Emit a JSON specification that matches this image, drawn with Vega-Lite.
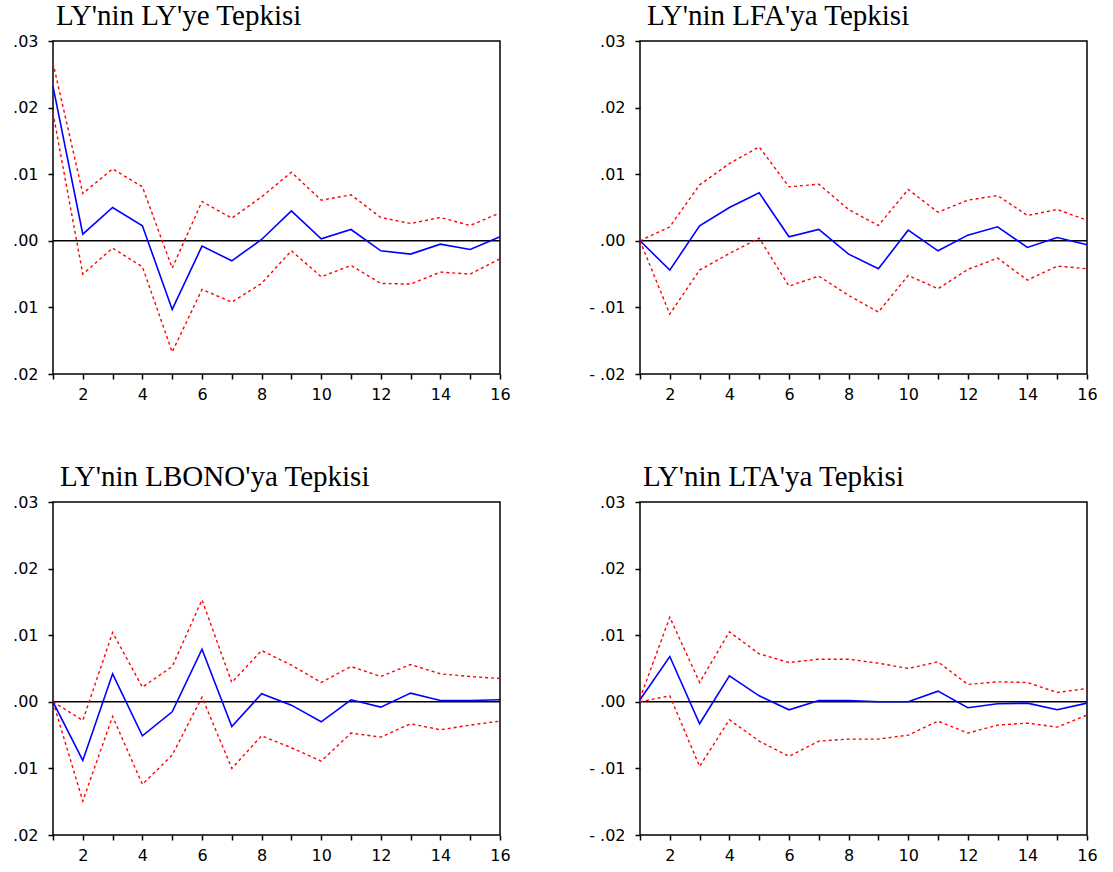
{
  "$schema": "https://vega.github.io/schema/vega-lite/v6.json",
  "background": "white",
  "padding": {"left": 11, "top": 1, "right": 10, "bottom": 5},
  "datasets": {
    "ly": [
      {"t":1,"r":0.0232,"lo":0.0192,"hi":0.0267},
      {"t":2,"r":0.001,"lo":-0.005,"hi":0.0071},
      {"t":3,"r":0.005,"lo":-0.0011,"hi":0.0108},
      {"t":4,"r":0.00225,"lo":-0.0039,"hi":0.0081},
      {"t":5,"r":-0.0103,"lo":-0.0167,"hi":-0.0041},
      {"t":6,"r":-0.0008,"lo":-0.0073,"hi":0.0059},
      {"t":7,"r":-0.003,"lo":-0.0092,"hi":0.0034},
      {"t":8,"r":0.0002,"lo":-0.0064,"hi":0.0066},
      {"t":9,"r":0.0045,"lo":-0.0015,"hi":0.0103},
      {"t":10,"r":0.0003,"lo":-0.0054,"hi":0.0061},
      {"t":11,"r":0.0017,"lo":-0.0037,"hi":0.0069},
      {"t":12,"r":-0.0015,"lo":-0.0064,"hi":0.0035},
      {"t":13,"r":-0.002,"lo":-0.0065,"hi":0.0026},
      {"t":14,"r":-0.0005,"lo":-0.0047,"hi":0.0035},
      {"t":15,"r":-0.0013,"lo":-0.005,"hi":0.0023},
      {"t":16,"r":0.0006,"lo":-0.0027,"hi":0.0042}
    ],
    "lfa": [
      {"t":1,"r":0,"lo":0,"hi":0},
      {"t":2,"r":-0.0044,"lo":-0.011,"hi":0.0021},
      {"t":3,"r":0.00225,"lo":-0.0044,"hi":0.0084},
      {"t":4,"r":0.005,"lo":-0.0019,"hi":0.0116},
      {"t":5,"r":0.0072,"lo":0.0004,"hi":0.0141},
      {"t":6,"r":0.0006,"lo":-0.0068,"hi":0.0081},
      {"t":7,"r":0.0017,"lo":-0.0053,"hi":0.0085},
      {"t":8,"r":-0.002,"lo":-0.0082,"hi":0.0047},
      {"t":9,"r":-0.0042,"lo":-0.0107,"hi":0.0023},
      {"t":10,"r":0.0016,"lo":-0.0052,"hi":0.0077},
      {"t":11,"r":-0.0015,"lo":-0.0072,"hi":0.0043},
      {"t":12,"r":0.00085,"lo":-0.0043,"hi":0.0061},
      {"t":13,"r":0.0021,"lo":-0.0026,"hi":0.0068},
      {"t":14,"r":-0.001,"lo":-0.0059,"hi":0.0038},
      {"t":15,"r":0.0005,"lo":-0.0038,"hi":0.0047},
      {"t":16,"r":-0.0006,"lo":-0.0042,"hi":0.0031}
    ],
    "lbono": [
      {"t":1,"r":0,"lo":0,"hi":0},
      {"t":2,"r":-0.0088,"lo":-0.0149,"hi":-0.0028},
      {"t":3,"r":0.0042,"lo":-0.0022,"hi":0.0104},
      {"t":4,"r":-0.0051,"lo":-0.0124,"hi":0.0022},
      {"t":5,"r":-0.0015,"lo":-0.008,"hi":0.0053},
      {"t":6,"r":0.0079,"lo":0.0007,"hi":0.0153},
      {"t":7,"r":-0.0037,"lo":-0.01,"hi":0.0029},
      {"t":8,"r":0.0012,"lo":-0.0051,"hi":0.0077},
      {"t":9,"r":-0.0005,"lo":-0.0069,"hi":0.0055},
      {"t":10,"r":-0.003,"lo":-0.0089,"hi":0.0029},
      {"t":11,"r":0.0003,"lo":-0.0047,"hi":0.0053},
      {"t":12,"r":-0.0008,"lo":-0.0053,"hi":0.0038},
      {"t":13,"r":0.0013,"lo":-0.0033,"hi":0.0056},
      {"t":14,"r":0.0002,"lo":-0.0042,"hi":0.0042},
      {"t":15,"r":0.0002,"lo":-0.0035,"hi":0.0038},
      {"t":16,"r":0.0003,"lo":-0.0029,"hi":0.0035}
    ],
    "lta": [
      {"t":1,"r":0.0003,"lo":0,"hi":0.0005},
      {"t":2,"r":0.0068,"lo":0.0009,"hi":0.0127},
      {"t":3,"r":-0.0033,"lo":-0.0097,"hi":0.0029},
      {"t":4,"r":0.0039,"lo":-0.0027,"hi":0.0105},
      {"t":5,"r":0.0009,"lo":-0.0059,"hi":0.0072},
      {"t":6,"r":-0.0012,"lo":-0.0082,"hi":0.0059},
      {"t":7,"r":0.0002,"lo":-0.0059,"hi":0.0064},
      {"t":8,"r":0.0002,"lo":-0.0056,"hi":0.0064},
      {"t":9,"r":0,"lo":-0.0056,"hi":0.0058},
      {"t":10,"r":0,"lo":-0.005,"hi":0.005},
      {"t":11,"r":0.0016,"lo":-0.0029,"hi":0.006},
      {"t":12,"r":-0.0009,"lo":-0.0047,"hi":0.0026},
      {"t":13,"r":-0.0003,"lo":-0.0035,"hi":0.003},
      {"t":14,"r":-0.0002,"lo":-0.0032,"hi":0.0029},
      {"t":15,"r":-0.0012,"lo":-0.0038,"hi":0.0014},
      {"t":16,"r":-0.0002,"lo":-0.002,"hi":0.002}
    ]
  },
  "config": {
    "view": {"stroke": "black", "strokeWidth": 1.5},
    "axis": {
      "grid": false,
      "domain": false,
      "tickColor": "black",
      "tickWidth": 1.5,
      "tickSize": 5,
      "labelColor": "black",
      "labelFont": "DejaVu Sans",
      "labelFontSize": 16,
      "labelOverlap": false,
      "title": null
    },
    "axisX": {"labelFlush": false, "labelPadding": 7, "labelFontSize": 16, "tickCount": 30},
    "axisY": {"labelPadding": 10, "tickCount": 20},
    "title": {"anchor": "start", "frame": "group", "font": "Liberation Serif", "fontSize": 29, "fontWeight": "normal", "color": "black", "offset": 2}
  },
  "spacing": 59,
  "vconcat": [
    {
      "spacing": 76,
      "hconcat": [
        {
          "title": {"text": "LY'nin LY'ye Tepkisi", "dx": 3},
          "width": 447, "height": 333,
          "data": {"name": "ly"},
          "layer": [
            {"data": {"values": [{"z": 0}]}, "mark": {"type": "rule", "color": "black", "strokeWidth": 1.5}, "encoding": {"y": {"field": "z", "type": "quantitative", "scale": {"domain": [-0.02, 0.03], "nice": false, "zero": false}, "axis": {"values": [-0.02,-0.01,0,0.01,0.02,0.03], "labelExpr": "replace(replace(replace(format(datum.value,'.2f'),'−',''),'-',''),'0.','.')"}}}},
            {"mark": {"type": "line", "color": "red", "strokeWidth": 1.4, "strokeDash": [3, 3]}, "encoding": {"x": {"field": "t", "type": "quantitative", "scale": {"domain": [1, 16], "nice": false, "zero": false}, "axis": {"values": [1,2,3,4,5,6,7,8,9,10,11,12,13,14,15,16], "tickCount": 30, "labelExpr": "datum.value % 2 == 0 ? format(datum.value, 'd') : ''"}}, "y": {"field": "hi", "type": "quantitative"}}},
            {"mark": {"type": "line", "color": "red", "strokeWidth": 1.4, "strokeDash": [3, 3]}, "encoding": {"x": {"field": "t", "type": "quantitative"}, "y": {"field": "lo", "type": "quantitative"}}},
            {"mark": {"type": "line", "color": "blue", "strokeWidth": 1.6}, "encoding": {"x": {"field": "t", "type": "quantitative"}, "y": {"field": "r", "type": "quantitative"}}}
          ]
        },
        {
          "title": {"text": "LY'nin LFA'ya Tepkisi", "dx": 7},
          "width": 447, "height": 333,
          "data": {"name": "lfa"},
          "layer": [
            {"data": {"values": [{"z": 0}]}, "mark": {"type": "rule", "color": "black", "strokeWidth": 1.5}, "encoding": {"y": {"field": "z", "type": "quantitative", "scale": {"domain": [-0.02, 0.03], "nice": false, "zero": false}, "axis": {"values": [-0.02,-0.01,0,0.01,0.02,0.03], "labelExpr": "replace(replace(replace(format(datum.value,'.2f'),'0.','.'),'−','- '),'-.','- .')"}}}},
            {"mark": {"type": "line", "color": "red", "strokeWidth": 1.4, "strokeDash": [3, 3]}, "encoding": {"x": {"field": "t", "type": "quantitative", "scale": {"domain": [1, 16], "nice": false, "zero": false}, "axis": {"values": [1,2,3,4,5,6,7,8,9,10,11,12,13,14,15,16], "tickCount": 30, "labelExpr": "datum.value % 2 == 0 ? format(datum.value, 'd') : ''"}}, "y": {"field": "hi", "type": "quantitative"}}},
            {"mark": {"type": "line", "color": "red", "strokeWidth": 1.4, "strokeDash": [3, 3]}, "encoding": {"x": {"field": "t", "type": "quantitative"}, "y": {"field": "lo", "type": "quantitative"}}},
            {"mark": {"type": "line", "color": "blue", "strokeWidth": 1.6}, "encoding": {"x": {"field": "t", "type": "quantitative"}, "y": {"field": "r", "type": "quantitative"}}}
          ]
        }
      ]
    },
    {
      "spacing": 76,
      "hconcat": [
        {
          "title": {"text": "LY'nin LBONO'ya Tepkisi", "dx": 7},
          "width": 447, "height": 333,
          "data": {"name": "lbono"},
          "layer": [
            {"data": {"values": [{"z": 0}]}, "mark": {"type": "rule", "color": "black", "strokeWidth": 1.5}, "encoding": {"y": {"field": "z", "type": "quantitative", "scale": {"domain": [-0.02, 0.03], "nice": false, "zero": false}, "axis": {"values": [-0.02,-0.01,0,0.01,0.02,0.03], "labelExpr": "replace(replace(replace(format(datum.value,'.2f'),'−',''),'-',''),'0.','.')"}}}},
            {"mark": {"type": "line", "color": "red", "strokeWidth": 1.4, "strokeDash": [3, 3]}, "encoding": {"x": {"field": "t", "type": "quantitative", "scale": {"domain": [1, 16], "nice": false, "zero": false}, "axis": {"values": [1,2,3,4,5,6,7,8,9,10,11,12,13,14,15,16], "tickCount": 30, "labelExpr": "datum.value % 2 == 0 ? format(datum.value, 'd') : ''"}}, "y": {"field": "hi", "type": "quantitative"}}},
            {"mark": {"type": "line", "color": "red", "strokeWidth": 1.4, "strokeDash": [3, 3]}, "encoding": {"x": {"field": "t", "type": "quantitative"}, "y": {"field": "lo", "type": "quantitative"}}},
            {"mark": {"type": "line", "color": "blue", "strokeWidth": 1.6}, "encoding": {"x": {"field": "t", "type": "quantitative"}, "y": {"field": "r", "type": "quantitative"}}}
          ]
        },
        {
          "title": {"text": "LY'nin LTA'ya Tepkisi", "dx": 3},
          "width": 447, "height": 333,
          "data": {"name": "lta"},
          "layer": [
            {"data": {"values": [{"z": 0}]}, "mark": {"type": "rule", "color": "black", "strokeWidth": 1.5}, "encoding": {"y": {"field": "z", "type": "quantitative", "scale": {"domain": [-0.02, 0.03], "nice": false, "zero": false}, "axis": {"values": [-0.02,-0.01,0,0.01,0.02,0.03], "labelExpr": "replace(replace(replace(format(datum.value,'.2f'),'0.','.'),'−','- '),'-.','- .')"}}}},
            {"mark": {"type": "line", "color": "red", "strokeWidth": 1.4, "strokeDash": [3, 3]}, "encoding": {"x": {"field": "t", "type": "quantitative", "scale": {"domain": [1, 16], "nice": false, "zero": false}, "axis": {"values": [1,2,3,4,5,6,7,8,9,10,11,12,13,14,15,16], "tickCount": 30, "labelExpr": "datum.value % 2 == 0 ? format(datum.value, 'd') : ''"}}, "y": {"field": "hi", "type": "quantitative"}}},
            {"mark": {"type": "line", "color": "red", "strokeWidth": 1.4, "strokeDash": [3, 3]}, "encoding": {"x": {"field": "t", "type": "quantitative"}, "y": {"field": "lo", "type": "quantitative"}}},
            {"mark": {"type": "line", "color": "blue", "strokeWidth": 1.6}, "encoding": {"x": {"field": "t", "type": "quantitative"}, "y": {"field": "r", "type": "quantitative"}}}
          ]
        }
      ]
    }
  ]
}
